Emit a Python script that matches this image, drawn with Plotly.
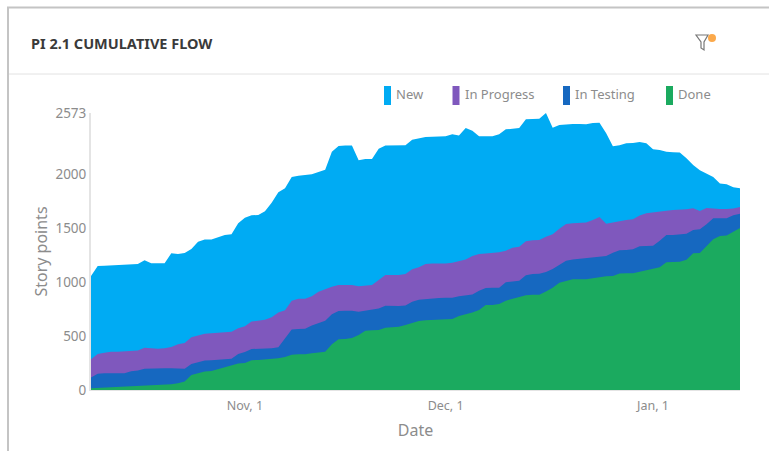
import pandas as pd
import plotly.graph_objects as go

W, H = 769, 451

dates = pd.date_range("2018-10-09", "2019-01-14", freq="D")

# Cumulative flow: top edge of each band, in story points
new_top = [1059,1152,1155,1158,1158,1161,1167,1171,1205,1177,1177,1177,1270,1263,1273,1310,1378,1397,1397,1415,
           1440,1446,1548,1601,1623,1626,1660,1740,1836,1873,1978,1991,1994,2003,2025,2047,2214,2266,2270,2270,
           2133,2146,2146,2242,2270,2273,2273,2273,2325,2340,2350,2353,2353,2356,2375,2365,2433,2409,2356,2356,
           2356,2375,2421,2427,2433,2514,2514,2520,2573,2436,2461,2467,2470,2470,2468,2480,2483,2384,2264,2273,
           2291,2294,2304,2291,2236,2230,2214,2208,2205,2152,2090,2041,2007,1979,1917,1911,1883,1873]
progress_top = [285,335,347,356,356,359,362,366,393,387,384,387,400,424,437,489,508,523,527,533,
                542,542,573,592,636,641,653,675,721,740,830,848,848,870,913,935,960,975,975,975,
                963,972,975,1022,1068,1068,1068,1078,1121,1140,1170,1176,1176,1176,1183,1198,1213,1245,1263,1269,
                1272,1279,1294,1322,1331,1381,1390,1393,1424,1446,1498,1542,1548,1554,1555,1579,1607,1545,1558,1570,
                1579,1586,1620,1641,1651,1657,1666,1672,1675,1678,1688,1663,1691,1685,1681,1681,1685,1700]
testing_top = [115,152,155,155,155,155,174,180,198,201,201,201,201,198,198,242,254,273,276,282,
               291,291,335,353,381,381,384,387,396,480,561,567,570,598,622,644,703,734,737,737,
               728,737,740,756,783,780,780,786,820,838,845,851,854,857,857,870,876,888,923,947,
               950,950,1000,1006,1015,1065,1077,1080,1096,1124,1161,1201,1213,1220,1223,1232,1242,1245,1276,1298,
               1301,1307,1335,1338,1341,1387,1440,1440,1443,1452,1486,1493,1539,1595,1595,1595,1623,1638]
done_top = [16,19,22,25,25,25,28,31,37,41,44,47,53,62,78,140,158,171,177,195,
            214,226,245,251,277,279,282,285,294,307,328,331,331,341,347,356,424,471,474,483,
            511,551,554,557,579,585,588,604,626,641,647,650,653,656,659,687,703,721,743,789,
            789,799,830,845,864,879,885,885,916,950,997,1009,1028,1028,1028,1037,1047,1056,1059,1081,
            1084,1084,1099,1112,1121,1140,1186,1189,1192,1211,1270,1273,1338,1400,1431,1434,1471,1505]

series_names = ["New", "In Progress", "In Testing", "Done"]
series_colors = ["#00ABF3", "#7F58BD", "#1668C0", "#1BAA5F"]
series_tops = [new_top, progress_top, testing_top, done_top]

y_ticks = [0, 500, 1000, 1500, 2000, 2573]
x_ticks = ["2018-11-01", "2018-12-01", "2019-01-01"]
x_labels = ["Nov, 1", "Dec, 1", "Jan, 1"]

FONT = "Noto Sans"
GREY = "#8c8c8c"


def px(x):
    return x / W


def py(y):
    return 1 - y / H


fig = go.Figure()
for name, color, top in zip(series_names, series_colors, series_tops):
    fig.add_trace(go.Scatter(x=dates, y=top, name=name, mode="lines",
                             line=dict(width=0, color=color), fill="tozeroy",
                             fillcolor=color, showlegend=False))

shapes = [
    dict(type="line", xref="paper", yref="paper", x0=px(8), x1=px(8), y0=py(7), y1=py(451),
         line=dict(color="#c4c4c4", width=2)),
    dict(type="line", xref="paper", yref="paper", x0=px(7), x1=px(769), y0=py(7.5), y1=py(7.5),
         line=dict(color="#c4c4c4", width=2)),
    dict(type="line", xref="paper", yref="paper", x0=px(9), x1=px(769), y0=py(74), y1=py(74),
         line=dict(color="#e2e2e2", width=1)),
    # filter icon
    dict(type="path", xref="paper", yref="paper",
         path=f"M {px(696)} {py(35)} L {px(708)} {py(35)} L {px(704)} {py(42)} L {px(704)} {py(50)} "
              f"L {px(701)} {py(48)} L {px(701)} {py(42)} Z",
         line=dict(color="#777777", width=1.2), fillcolor="white"),
    dict(type="circle", xref="paper", yref="paper", x0=px(708), x1=px(716), y0=py(34), y1=py(42),
         line=dict(width=0), fillcolor="#FBA94B"),
]

annotations = []
swatch_x = [384, 452.5, 563, 666]
for name, color, sx in zip(series_names, series_colors, swatch_x):
    shapes.append(dict(type="rect", xref="paper", yref="paper", x0=px(sx), x1=px(sx + 7),
                       y0=py(86), y1=py(105), line=dict(width=0), fillcolor=color))
    annotations.append(dict(text=name, xref="paper", yref="paper", x=px(sx + 10), y=py(94.5),
                            xanchor="left", yanchor="middle", showarrow=False,
                            font=dict(family=FONT, size=13, color=GREY)))

fig.update_layout(
    width=W, height=H, autosize=False,
    margin=dict(l=0, r=0, t=0, b=0),
    paper_bgcolor="white", plot_bgcolor="white",
    font=dict(family=FONT, color=GREY),
    title=dict(text="<b>PI 2.1 CUMULATIVE FLOW</b>", x=px(31), y=py(44), xref="container", yref="container",
               xanchor="left", yanchor="middle",
               font=dict(family=FONT, size=14.5, color="#3a3a3a")),
    showlegend=False,
    shapes=shapes,
    annotations=annotations,
    xaxis=dict(domain=[px(91), px(740)], type="date", automargin=False,
               range=[dates[0], dates[-1]],
               tickmode="array", tickvals=x_ticks, ticktext=x_labels,
               showgrid=False, zeroline=False, ticks="", ticklabelstandoff=4,
               showline=True, linecolor="#e4e4e4", linewidth=1,
               tickfont=dict(size=12.5, color=GREY),
               title=dict(text="Date", font=dict(size=16, color=GREY), standoff=11)),
    yaxis=dict(domain=[py(390), py(113)], range=[0, 2573], automargin=False,
               tickmode="array", tickvals=y_ticks,
               showgrid=False, zeroline=False, ticks="",
               showline=True, linecolor="#e4e4e4", linewidth=2,
               tickfont=dict(size=13.5, color=GREY),
               title=dict(text="Story points", font=dict(size=16, color=GREY), standoff=4)),
)

fig.write_html("out.html", config=dict(displayModeBar=False),
               post_script="document.body.style.margin='0';")
